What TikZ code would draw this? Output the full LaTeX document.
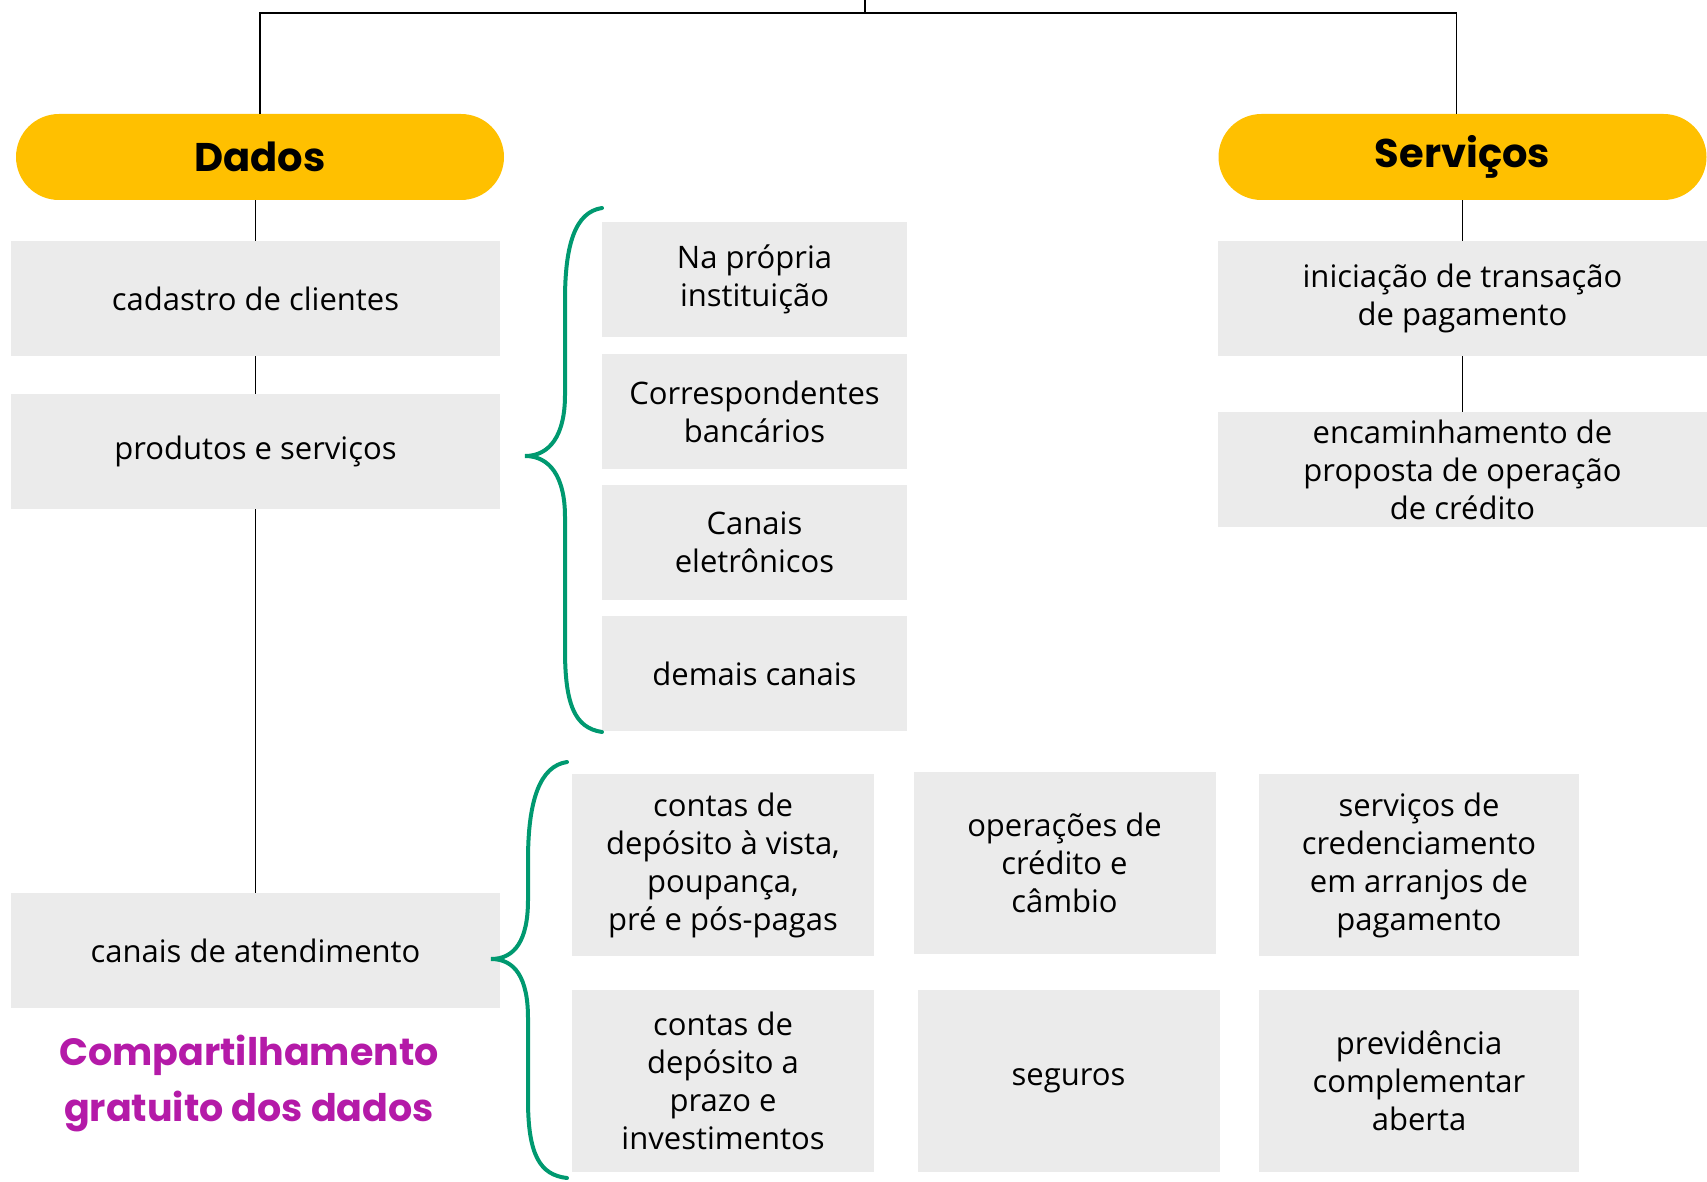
\documentclass[tikz,border=0pt]{standalone}
\usepackage{fontspec}
\setmainfont{Open Sans}
\newfontfamily\titlefont{Poppins}

\definecolor{boxgray}{RGB}{235,235,235}
\definecolor{pillgold}{RGB}{255,192,0}
\definecolor{bracegreen}{RGB}{0,153,112}
\definecolor{freemagenta}{RGB}{180,26,168}

\begin{document}
\begin{tikzpicture}[x=0.5pt, y=-0.5pt,
	box/.style={fill=boxgray, inner sep=0pt, align=center, font=\fontsize{15.5}{19}\selectfont},
	widebox/.style={box, minimum width=244.5pt, minimum height=57.5pt},
	chanbox/.style={box, minimum width=152.5pt, minimum height=57.5pt},
	gridbox/.style={box, minimum width=151pt, minimum height=91pt},
	pill/.style={fill=pillgold, rounded corners=21.5pt, minimum width=244pt, minimum height=43pt, inner sep=0pt, font=\titlefont\bfseries\fontsize{20}{22}\selectfont},
	link/.style={line width=0.7pt},
	curly/.style={draw=bracegreen, line width=2pt, line cap=round}]
	\useasboundingbox (0,0) rectangle (1707,1182);

	% Draw the two headings
	\node[pill] (dados) at (260,157) {Dados};
	\node[pill] (servicos) at (1462.5,157) {Serviços};

	% Draw the data column
	\node[widebox] (cadastro) at (255.5,298.5) {cadastro de clientes};
	\node[widebox] (produtos) at (255.5,451.5) {produtos e serviços};
	\node[widebox] (canais) at (255.5,950.5) {canais de atendimento};

	% Draw the service column
	\node[widebox] (iniciacao) at (1462.5,298.5) {iniciação de transação\\de pagamento};
	\node[widebox] (encaminha) at (1462.5,469.5) {encaminhamento de\\proposta de operação\\de crédito};

	% Draw the channel boxes
	\node[chanbox] (propria) at (754.5,279.5) {Na própria\\instituição};
	\node[chanbox] (corresp) at (754.5,411.5) {Correspondentes\\bancários};
	\node[chanbox] (eletron) at (754.5,542.5) {Canais\\eletrônicos};
	\node[chanbox] (demais) at (754.5,673.5) {demais canais};

	% Draw the product grid
	\node[gridbox] (vista) at (723,865) {contas de\\depósito à vista,\\poupança,\\pré e pós-pagas};
	\node[gridbox] (credito) at (1064.5,863) {operações de\\crédito e\\câmbio};
	\node[gridbox, minimum width=160pt] (credenc) at (1419,865) {serviços de\\credenciamento\\em arranjos de\\pagamento};
	\node[gridbox] (prazo) at (723,1081) {contas de\\depósito a\\prazo e\\investimentos};
	\node[gridbox] (seguros) at (1068.5,1081) {seguros};
	\node[gridbox, minimum width=160pt] (previd) at (1419,1081) {previdência\\complementar\\aberta};

	% Free sharing note
	\node[font=\titlefont\bfseries\fontsize{19}{28}\selectfont, text=freemagenta, align=center] (gratis) at (249,1083) {Compartilhamento\\gratuito dos dados};

	% Draw the tree lines
	\coordinate (root) at (865,0);
	\coordinate (bar) at (865,13);
	\draw[link] (root) -- (bar);
	\draw[link] (dados.north) |- (bar) -| ([xshift=-3pt]servicos.north);
	\draw[link] (cadastro.north |- dados.south) -- (cadastro.north);
	\draw[link] (cadastro.south) -- (produtos.north);
	\draw[link] (produtos.south) -- (canais.north);
	\draw[link] (servicos.south) -- (iniciacao.north);
	\draw[link] (iniciacao.south) -- (encaminha.north);

	% Draw the green braces
	\draw[curly] (602,208) .. controls (575,212) and (565,245) .. (565,300) -- (565,395)
		.. controls (565,435) and (550,456) .. (525,456)
		.. controls (550,456) and (565,477) .. (565,517) -- (565,650)
		.. controls (565,705) and (575,728) .. (602,732);
	\draw[curly] (567,762) .. controls (540,766) and (528,800) .. (528,860) -- (528,900)
		.. controls (528,940) and (515,959) .. (491,959)
		.. controls (515,959) and (528,978) .. (528,1018) -- (528,1100)
		.. controls (528,1155) and (540,1175) .. (567,1178);
\end{tikzpicture}
\end{document}
